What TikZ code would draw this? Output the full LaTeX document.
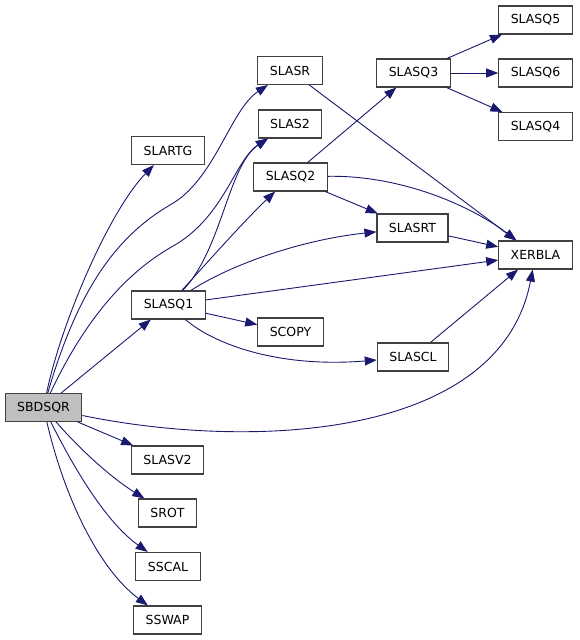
\documentclass[tikz,border=0pt]{standalone}
\usepackage{fontspec}
\setmainfont{DejaVu Sans}
\usepackage{xcolor}
\usepackage{tikz}
\usetikzlibrary{arrows.meta}
\definecolor{callblue}{HTML}{191970}
\definecolor{boxedge}{HTML}{404040}
\definecolor{rootgray}{HTML}{BFBFBF}
\tikzset{
  fnnode/.style={draw=boxedge, fill=white, line width=1.1pt, font=\fontsize{12.5}{14}\selectfont, inner xsep=12pt, inner ysep=0pt, minimum height=28pt},
  rootnode/.style={fnnode, fill=rootgray},
  call/.style={-{Triangle[length=12pt,width=9pt]}, line width=0.9pt, draw=callblue}
}
\begin{document}
\begin{tikzpicture}[x=1pt,y=-1pt]
  \useasboundingbox (0,0) rectangle (579,640);
  \node[rootnode] (sbdsqr) at (43.5,407.5) {SBDSQR};
  \node[fnnode] (slartg) at (168,150.5) {SLARTG};
  \node[fnnode] (slasr) at (290,70.5) {SLASR};
  \node[fnnode] (slas2) at (290,124) {SLAS2};
  \node[fnnode] (slasq2) at (290.5,177) {SLASQ2};
  \node[fnnode] (slasq1) at (168.5,305) {SLASQ1};
  \node[fnnode] (scopy) at (290.5,332) {SCOPY};
  \node[fnnode] (slascl) at (413,357) {SLASCL};
  \node[fnnode] (slasrt) at (412.5,228) {SLASRT};
  \node[fnnode] (slasq3) at (413.5,73) {SLASQ3};
  \node[fnnode] (slasq5) at (535.5,20) {SLASQ5};
  \node[fnnode] (slasq6) at (535.5,73) {SLASQ6};
  \node[fnnode] (slasq4) at (535.5,126.5) {SLASQ4};
  \node[fnnode] (xerbla) at (535.5,255) {XERBLA};
  \node[fnnode] (slasv2) at (167.5,460) {SLASV2};
  \node[fnnode] (srot) at (167.5,513) {SROT};
  \node[fnnode] (sscal) at (168,566.5) {SSCAL};
  \node[fnnode] (sswap) at (167.5,620) {SSWAP};

  \draw[call] (sbdsqr) .. controls (62,320) and (110,210) .. (slartg);
  \draw[call] (sbdsqr) .. controls (75,300) and (110,240) .. (170,205) .. controls (215,180) and (230,110) .. (slasr);
  \draw[call] (sbdsqr) .. controls (80,330) and (120,275) .. (175,245) .. controls (225,215) and (235,160) .. (slas2);
  \draw[call] (sbdsqr) -- (slasq1);
  \draw[call] (sbdsqr) .. controls (250,450) and (500,440) .. (xerbla);
  \draw[call] (sbdsqr) -- (slasv2);
  \draw[call] (sbdsqr) .. controls (85,455) and (115,480) .. (srot);
  \draw[call] (sbdsqr) .. controls (80,480) and (110,525) .. (sscal);
  \draw[call] (sbdsqr) .. controls (65,500) and (100,570) .. (sswap);
  \draw[call] (slasq1) .. controls (222,250) and (228,165) .. (slas2);
  \draw[call] (slasq1) .. controls (205,265) and (245,220) .. (slasq2);
  \draw[call] (slasq1) .. controls (230,265) and (300,240) .. (slasrt);
  \draw[call] (slasq1) -- (xerbla);
  \draw[call] (slasq1) -- (scopy);
  \draw[call] (slasq1) .. controls (215,345) and (280,368) .. (slascl);
  \draw[call] (slasq2) -- (slasq3);
  \draw[call] (slasq2) -- (slasrt);
  \draw[call] (slasq2) .. controls (400,175) and (470,205) .. (xerbla);
  \draw[call] (slasr) -- (xerbla);
  \draw[call] (slasrt) -- (xerbla);
  \draw[call] (slascl) -- (xerbla);
  \draw[call] (slasq3) -- (slasq5);
  \draw[call] (slasq3) -- (slasq6);
  \draw[call] (slasq3) -- (slasq4);
\end{tikzpicture}
\end{document}
